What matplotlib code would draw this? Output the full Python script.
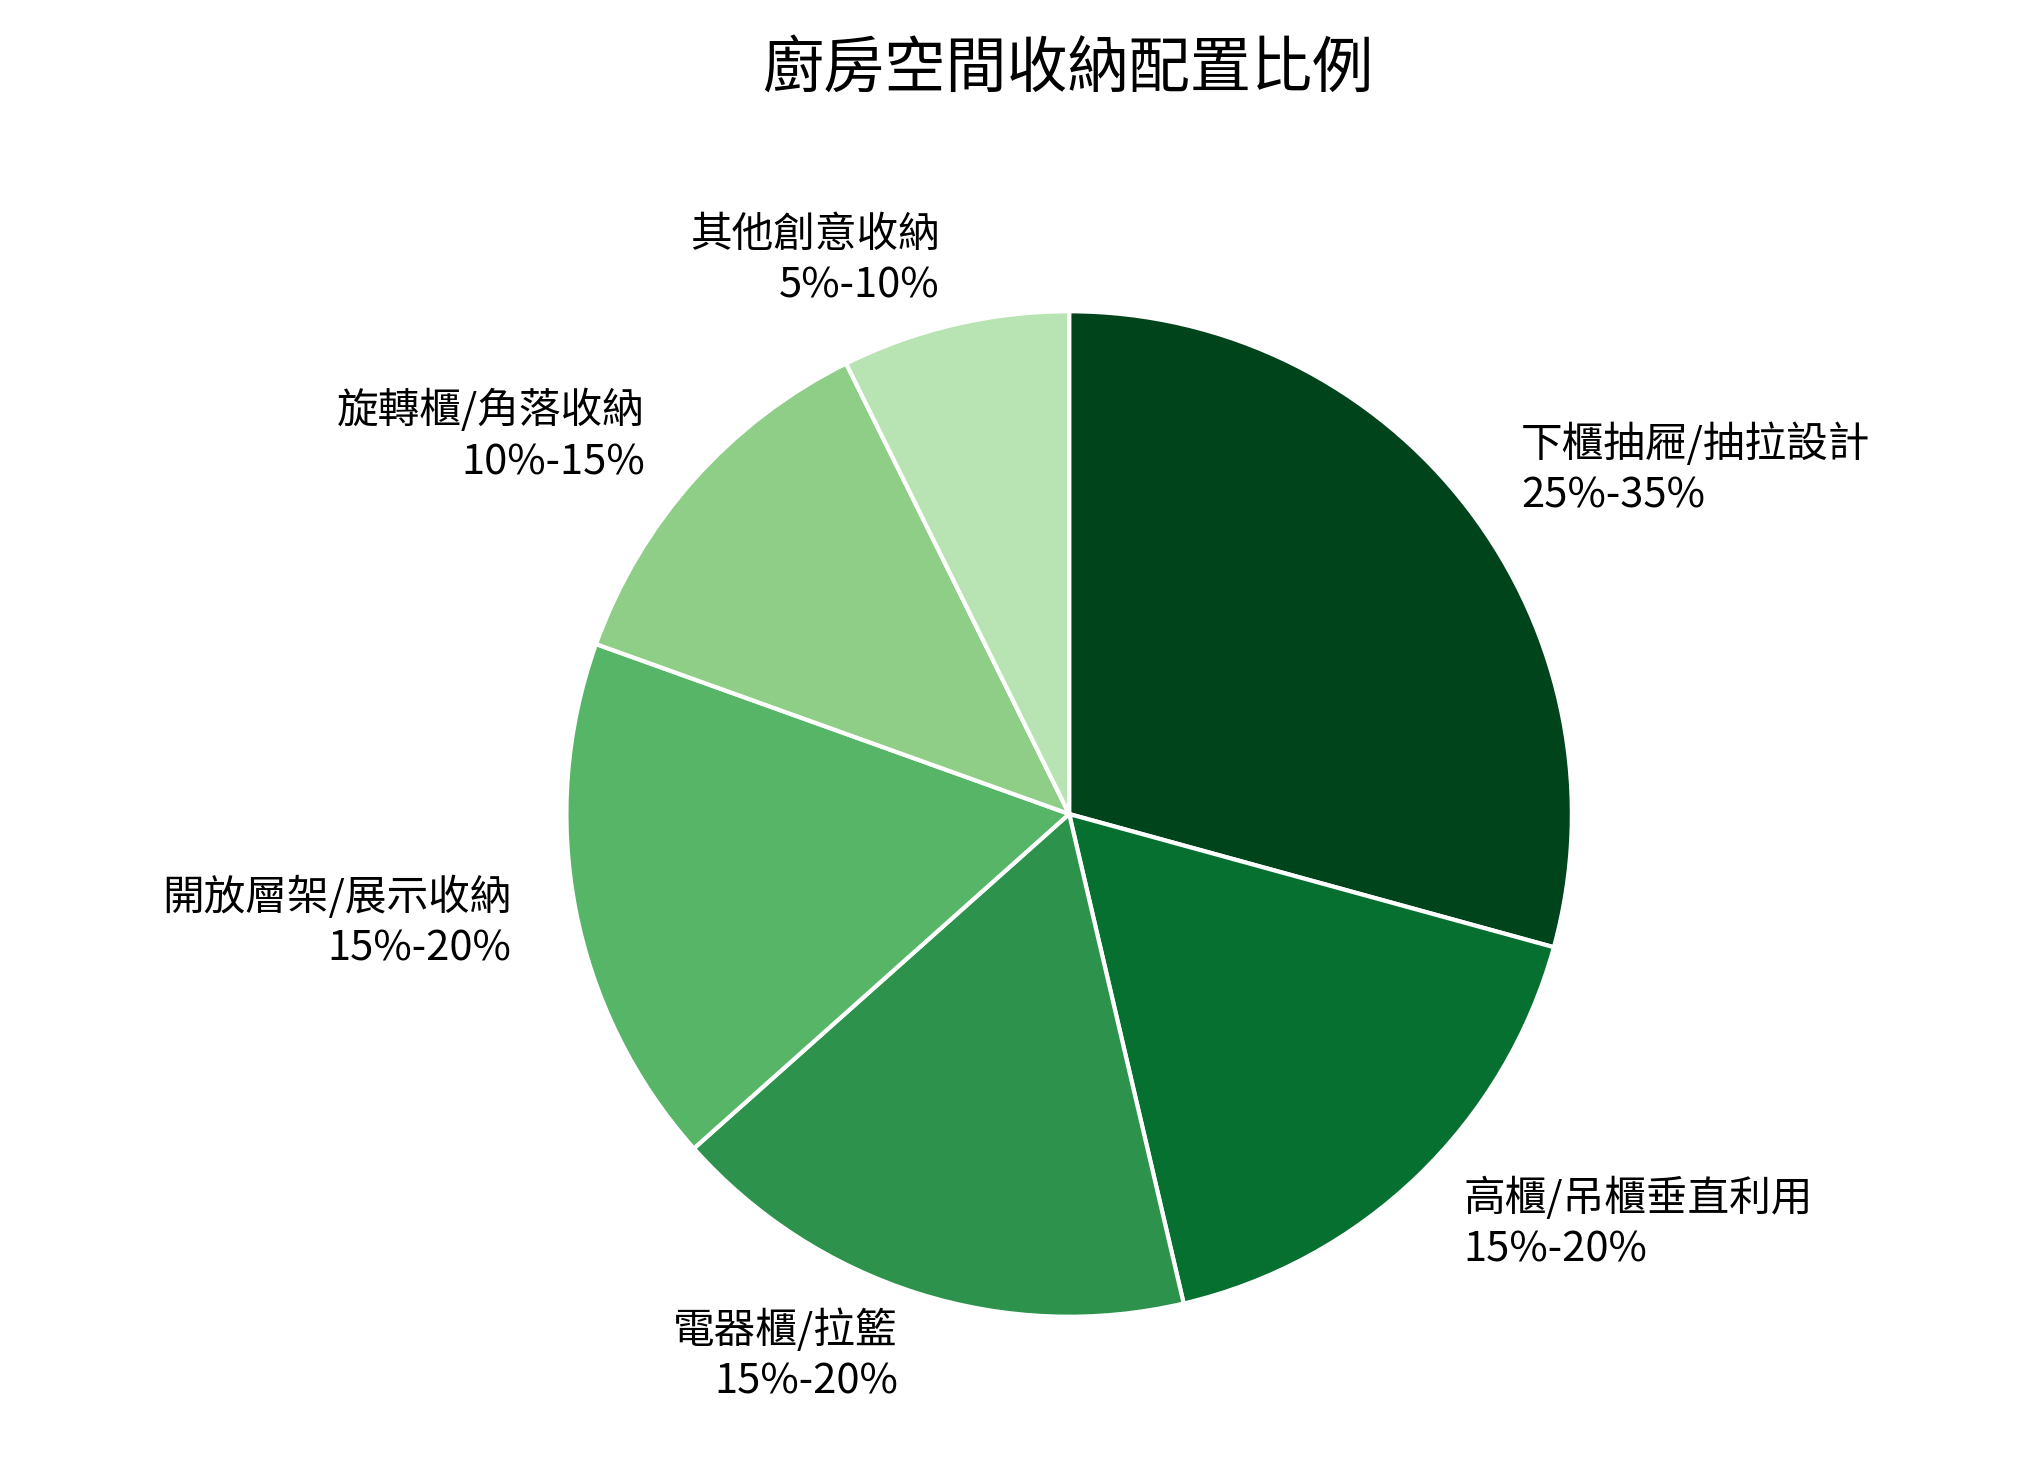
import matplotlib
matplotlib.use("Agg")
import matplotlib.pyplot as plt

plt.rcParams['font.family'] = ['Noto Sans CJK TC', 'DejaVu Sans']

categories = ["下櫃抽屜/抽拉設計", "高櫃/吊櫃垂直利用", "電器櫃/拉籃",
              "開放層架/展示收納", "旋轉櫃/角落收納", "其他創意收納"]
ranges = ["25%-35%", "15%-20%", "15%-20%", "15%-20%", "10%-15%", "5%-10%"]
values = [30, 17.5, 17.5, 17.5, 12.5, 7.5]
colors = ["#00441b", "#067030", "#2d934c", "#56b567", "#8ece87", "#b8e3b2"]

fig = plt.figure(figsize=(20.23, 14.68), dpi=100)
ax = fig.add_axes([0.280, 0.103, 0.497, 0.685])
labels = [f"{c}\n{r}" for c, r in zip(categories, ranges)]
wedges, texts = ax.pie(values, labels=labels, colors=colors, startangle=90,
                       counterclock=False, labeldistance=1.13,
                       wedgeprops=dict(edgecolor="white", linewidth=3),
                       textprops=dict(fontsize=30, linespacing=1.3))
ax.set_xlim(-1, 1)
ax.set_ylim(-1, 1)
ax.set_aspect("equal")
fig.text(0.528, 0.952, "廚房空間收納配置比例", ha="center", va="center", fontsize=44)
fig.savefig("out.png", dpi=100, facecolor="white")
